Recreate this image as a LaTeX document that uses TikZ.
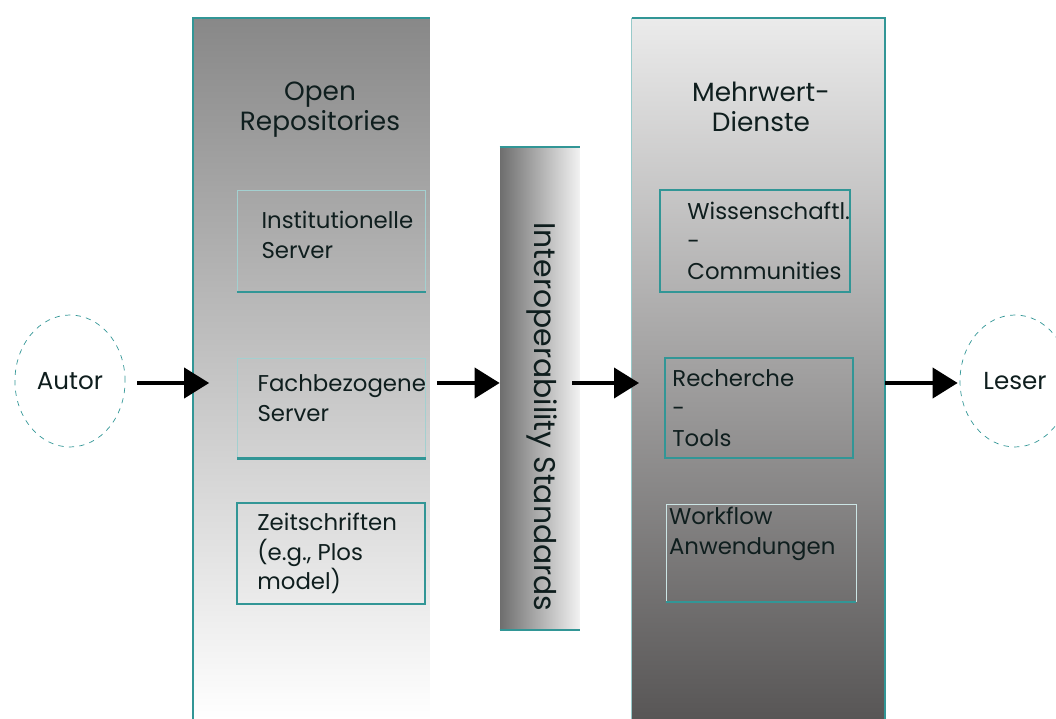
\documentclass[tikz,border=0pt]{standalone}
\usepackage{fontspec}
\setmainfont{Poppins}
\usetikzlibrary{positioning,shapes.geometric,arrows.meta}

\definecolor{lineteal}{RGB}{50,150,150}
\definecolor{ink}{RGB}{15,30,30}
\definecolor{repogray}{RGB}{136,136,136}
\definecolor{dienstetop}{RGB}{235,235,235}
\definecolor{dienstemid}{RGB}{172,172,172}
\definecolor{dienstebot}{RGB}{88,86,86}
\definecolor{interopgray}{RGB}{110,110,110}

\tikzset{
    txt/.style={font=\fontsize{13}{17}\selectfont,text=ink,align=left,inner sep=0pt},
    title/.style={txt,font=\fontsize{15}{17}\selectfont,align=center},
    colbox/.style={minimum height=14.02cm,inner sep=0pt},
    subbox/.style={draw=lineteal!45,thin,minimum width=3.76cm,minimum height=2.02cm,inner sep=0pt},
    framed/.style={subbox,draw=lineteal,line width=0.04cm},
    person/.style={ellipse,draw=lineteal,dashed,thin,minimum width=2.2cm,minimum height=2.64cm,
        font=\fontsize{14}{17}\selectfont,text=ink},
    flow/.style={-{Triangle[length=0.5cm,width=0.6cm]},line width=0.08cm,black}
}

\begin{document}
\begin{tikzpicture}[x=0.02cm,y=-0.02cm]
    \useasboundingbox (0,0) rectangle (1056,719);
    \coordinate (row) at (0,383);

    % the three columns
    \node[colbox,top color=repogray,bottom color=white,minimum width=4.74cm] (repos) at (311.5,368.5) {};
    \node[colbox,top color=dienstetop,middle color=dienstemid,bottom color=dienstebot,minimum width=5.06cm] (dienste) at (758.5,368.5) {};
    \node[left color=interopgray,right color=white!95!black,minimum width=1.6cm,minimum height=9.66cm,inner sep=0pt] (interop) at (540,388.5) {};
    \draw[lineteal,line width=0.04cm] (repos.south west) -- (repos.north west) -- (repos.north east);
    \draw[lineteal,line width=0.04cm] (dienste.north west) -- (dienste.north east) -- (dienste.south east);
    \draw[lineteal!50] (dienste.north west) -- (dienste.south west);
    \draw[lineteal,line width=0.04cm] (interop.north west) -- (interop.north east)
        (interop.south west) -- (interop.south east);

    \node[title] (repostitle) at (320,110) {Open\\Repositories};
    \node[title] (dienstetitle) at (761,107) {Mehrwert-\\Dienste};
    \node[txt,font=\fontsize{17}{17}\selectfont,rotate=-90] (interoptxt) at (542,417) {Interoperability Standards};

    % boxes
    \node[subbox] (inst) at (331.5,241) {};
    \node[subbox,minimum height=2cm] (fach) at (331.5,408) {};
    \node[framed] (zeit) at (331,553.5) {};
    \node[framed,minimum width=3.8cm,minimum height=2.04cm] (wiss) at (755,241) {};
    \node[framed,minimum height=2cm] (rech) at (759,408) {};
    \node[subbox,draw=lineteal!25,minimum width=3.8cm,minimum height=1.94cm] (work) at (761,553) {};
    \foreach \b in {inst,fach,work}{
        \draw[lineteal,line width=0.05cm] (\b.south west) -- (\b.south east);
    }

    \node[txt,right=0.48cm of inst.west,yshift=0.12cm] (insttxt) {Institutionelle\\Server};
    \node[txt,right=0.4cm of fach.west,yshift=0.2cm] (fachtxt) {Fachbezogene\\Server};
    \node[txt,right=0.42cm of zeit.west] (zeittxt) {Zeitschriften\\(e.g., Plos\\model)};
    \node[txt,right=0.56cm of wiss.west] (wisstxt) {Wissenschaftl.\\-\\Communities};
    \node[txt,right=0.16cm of rech.west] (rechtxt) {Recherche\\-\\Tools};
    \node[txt,right=0.06cm of work.west,yshift=0.38cm] (worktxt) {Workflow\\Anwendungen};

    % reader and author
    \node[person] (autor) at (70,381) {Autor};
    \node[person] (leser) at (1015,381) {Leser};

    \draw[flow,shorten <=0.24cm,shorten >=0.56cm] (autor.east |- row) -- (fach.west |- row);
    \draw[flow,shorten <=0.22cm] (fach.east |- row) -- (interop.west |- row);
    \draw[flow,shorten <=-0.16cm,shorten >=0.5cm] (interop.east |- row) -- (rech.west |- row);
    \draw[flow,shorten >=0.04cm] (dienste.east |- row) -- (leser.west |- row);
\end{tikzpicture}
\end{document}
